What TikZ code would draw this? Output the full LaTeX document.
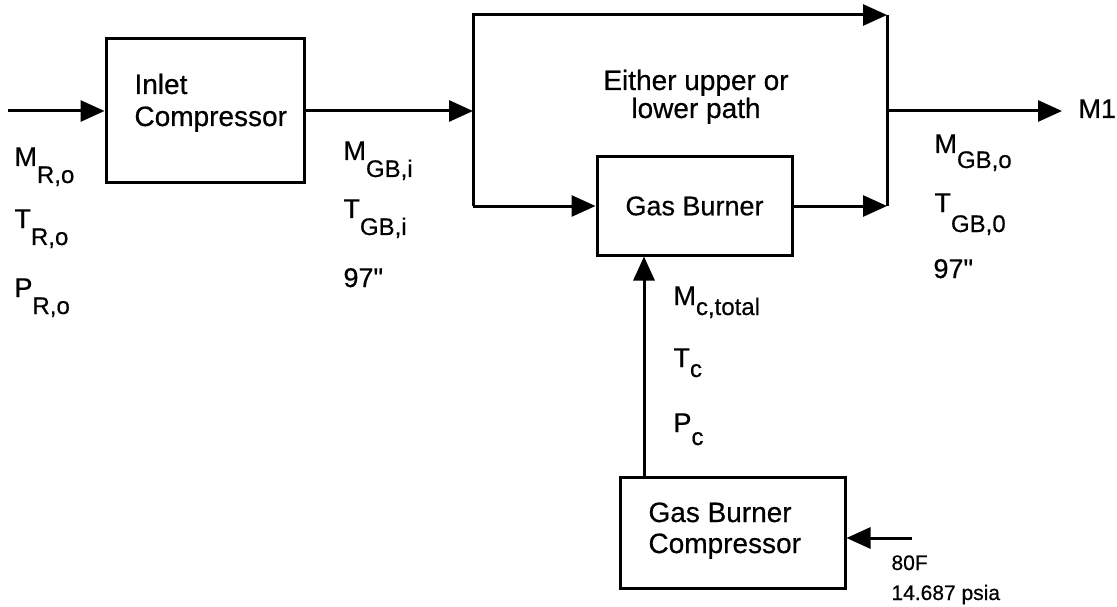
\documentclass[tikz,border=0pt]{standalone}
\usepackage{fontspec}
\setmainfont{Liberation Sans}[FakeBold=0.5]
\newfontfamily\nomapfont{Liberation Sans}[FakeBold=0.5]
\usetikzlibrary{arrows.meta}
\newcommand{\lbl}[3][17pt]{#2\raisebox{-#1}{\fontsize{24}{27}\selectfont #3}}
\newcommand{\inch}{{\nomapfont "}}
\begin{document}
\begin{tikzpicture}[x=1pt,y=-1pt,
  line width=3pt,
  box/.style={draw, rectangle, inner sep=0pt, line width=3pt},
  arr/.style={-{Triangle[length=24pt,width=21pt]}},
  txt/.style={inner sep=0pt, anchor=base west, font=\fontsize{27}{30}\selectfont},
  btxt/.style={inner sep=0pt, anchor=base west, font=\fontsize{28}{30}\selectfont},
  small/.style={inner sep=0pt, anchor=base west, font=\fontsize{21}{24}\selectfont},
]
\useasboundingbox (0,0) rectangle (1117,607);

% boxes
\node[box, minimum width=198pt, minimum height=144pt] (ic) at (205,111) {};
\node[btxt] (ict1) at (133,94) {Inlet};
\node[btxt] (ict2) at (133,126) {Compressor};

\node[box, minimum width=195pt, minimum height=98pt, font=\fontsize{27}{30}\selectfont] (gb) at (694.5,206) {Gas Burner};

\node[box, minimum width=225pt, minimum height=111pt] (gbc) at (732.5,532.5) {};
\node[btxt] (gbct1) at (647,522) {Gas Burner};
\node[btxt] (gbct2) at (647,553) {Compressor};

\node[btxt, anchor=base] (eit1) at (696,90) {Either upper or};
\node[btxt, anchor=base] (eit2) at (696,118) {lower path};

% connectors
\coordinate (in) at (8,111);
\coordinate (jl) at (473,111);
\coordinate (jlt) at (473,15);
\coordinate (jlb) at (473,206);
\coordinate (jr) at (887,111);
\coordinate (jrt) at (887,15);
\coordinate (jrb) at (887,206);
\coordinate (out) at (1062,111);
\coordinate (cb) at (644,477);
\coordinate (feed) at (912,538);

\draw[arr] (in) -- (ic.west);
\draw[arr] (ic.east) -- (jl);
\draw[arr] (jlb) |- (jrt);
\draw[arr] (jlb) -- (gb.west);
\draw[arr] (gb.east) -- (jrb);
\draw (jrt) -- (jrb);
\draw[arr] (jr) -- (out);
\draw[arr] (cb) -- (cb |- gb.south);
\draw[arr] (feed) -- (feed -| gbc.east);

% labels
\node[txt] (mro) at (13,166) {\lbl{M}{R,o}};
\node[txt] (tro) at (13,228) {\lbl{T}{R,o}};
\node[txt] (pro) at (13,297) {\lbl{P}{R,o}};

\node[txt] (mgbi) at (342,160) {\lbl{M}{GB,i}};
\node[txt] (tgbi) at (342,218) {\lbl{T}{GB,i}};
\node[txt] (din) at (342,287) {97\inch};

\node[txt] (mgbo) at (933,153) {\lbl[15pt]{M}{GB,o}};
\node[txt] (tgbo) at (933,212) {\lbl[20pt]{T}{GB,0}};
\node[txt] (dout) at (932,278) {97\inch};

\node[txt] (m1) at (1077,118) {M1};

\node[txt] (mc) at (672,305) {\lbl[10pt]{M}{c,total}};
\node[txt] (tc) at (672,367) {\lbl[10pt]{T}{c}};
\node[txt] (pc) at (672,432) {\lbl[13pt]{P}{c}};

\node[small] (f1) at (890,570) {80F};
\node[small] (f2) at (890,600) {14.687 psia};
\end{tikzpicture}
\end{document}
